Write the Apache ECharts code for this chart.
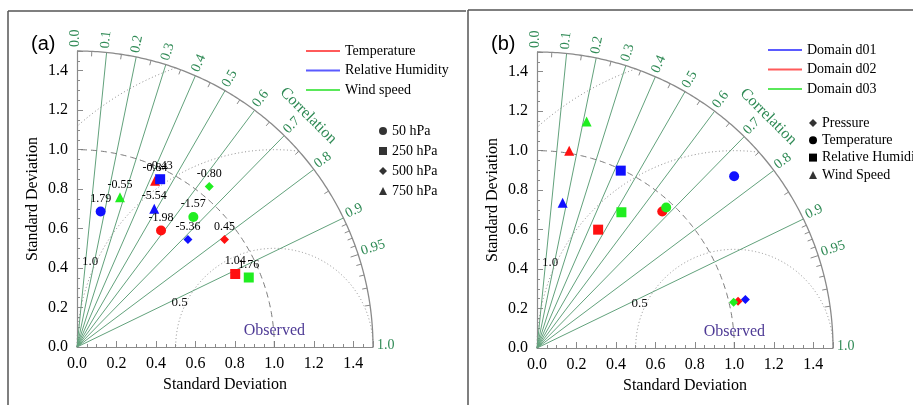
<!DOCTYPE html>
<html><head><meta charset="utf-8">
<script src="https://cdn.jsdelivr.net/npm/echarts@6/dist/echarts.min.js"></script>
<style>html,body{margin:0;padding:0;background:#fff}#c{width:913px;height:405px}</style>
</head><body><div id="c"></div>
<script>
// ---------------- DATA ----------------
// Panel (a): colour = variable, symbol = pressure level
const variablesA = ['Temperature', 'Relative Humidity', 'Wind speed'];
const levelsA = ['50 hPa', '250 hPa', '500 hPa', '750 hPa'];
// values in level order: 50, 250, 500, 750 hPa
const tempStdA  = [0.728, 0.883, 0.925, 0.931];
const tempCorA  = [0.585, 0.908, 0.808, 0.425];
const tempBiasA = ['-1.98', '1.04', '0.45', '-0.84'];
const rhStdA    = [0.697, 0.949, 0.783, 0.802];
const rhCorA    = [0.172, 0.444, 0.718, 0.488];
const rhBiasA   = ['1.79', '-0.43', '-5.36', '-5.54'];
const windStdA  = [0.884, 0.939, 1.054, 0.789];
const windCorA  = [0.667, 0.927, 0.636, 0.276];
const windBiasA = ['-1.57', '1.76', '-0.80', '-0.55'];

// Panel (b): colour = domain, symbol = field
const domainsB = ['Domain d01', 'Domain d02', 'Domain d03'];
const fieldsB = ['Pressure', 'Temperature', 'Relative Humidity', 'Wind Speed'];
// values in field order: Pressure, Temperature, Relative Humidity, Wind Speed
const d01StdB = [1.084, 1.325, 0.994, 0.747];
const d01CorB = [0.974, 0.754, 0.427, 0.174];
const d02StdB = [1.046, 0.939, 0.675, 1.013];
const d02CorB = [0.974, 0.676, 0.459, 0.161];
const d03StdB = [1.023, 0.967, 0.810, 1.175];
const d03CorB = [0.974, 0.677, 0.528, 0.214];

// Diagram scaffolding
const corrLines = [0.1, 0.2, 0.3, 0.4, 0.5, 0.6, 0.7, 0.8, 0.9];
const corrLabels = ['0.0', '0.1', '0.2', '0.3', '0.4', '0.5', '0.6', '0.7', '0.8', '0.9', '0.95', '1.0'];
const corrTicks = [0.05, 0.15, 0.25, 0.35, 0.45, 0.55, 0.65, 0.75, 0.85, 0.91, 0.92, 0.93, 0.94, 0.95, 0.96, 0.97, 0.98, 0.99];
const rmsRadii = [0.5, 1.0, 1.5];
const rmsLabels = ['0.5', '1.0'];
const stdMax = 1.5;
const stdRef = 1.0;

// ---------------- STYLE ----------------
const SERIF = 'Liberation Serif';
const GREEN_LINE = '#62a27c';
const GREEN_TEXT = '#2f8a55';
const GREY = '#8a8a8a';
const C_RED = '#ff1010', C_BLUE = '#1010ff', C_GREEN = '#20ee20';
const L_RED = '#ff5a5a', L_BLUE = '#5a5aff', L_GREEN = '#5ae85a';

function toXY(s, c) { return [s * c, s * Math.sqrt(Math.max(0, 1 - c * c))]; }

function diagramSeries(gi) {
  const base = { type: 'custom', coordinateSystem: 'cartesian2d', xAxisIndex: gi, yAxisIndex: gi,
    silent: true, animation: false, clip: false, z: 1 };
  const out = [];
  // correlation rays
  out.push(Object.assign({}, base, {
    data: corrLines.map(c => [c, 0]),
    renderItem: (p, api) => {
      const c = api.value(0), a = api.coord([0, 0]), b = api.coord(toXY(stdMax, c));
      return { type: 'line', shape: { x1: a[0], y1: a[1], x2: b[0], y2: b[1] }, style: { stroke: GREEN_LINE, lineWidth: 1 } };
    }
  }));
  // outer arc and reference std arc
  out.push(Object.assign({}, base, {
    data: [[stdMax, 0], [stdRef, 1]],
    renderItem: (p, api) => {
      const r = api.value(0), dashed = api.value(1) === 1, pts = [];
      for (let i = 0; i <= 180; i++) { const t = i / 180 * Math.PI / 2; pts.push(api.coord([r * Math.cos(t), r * Math.sin(t)])); }
      return { type: 'polyline', shape: { points: pts },
        style: { stroke: dashed ? '#7a7a7a' : GREY, lineWidth: dashed ? 1 : 1.3, fill: null, lineDash: dashed ? [6, 4] : null } };
    }
  }));
  // centred RMS arcs
  out.push(Object.assign({}, base, {
    data: rmsRadii.map(r => [r, 0]),
    renderItem: (p, api) => {
      const R = api.value(0), pts = [];
      for (let i = 0; i <= 720; i++) {
        const f = i / 720 * Math.PI, x = stdRef + R * Math.cos(f), y = R * Math.sin(f);
        if (x >= 0 && x * x + y * y <= stdMax * stdMax + 1e-9) pts.push(api.coord([x, y]));
      }
      return { type: 'polyline', shape: { points: pts }, style: { stroke: '#8c8c8c', lineWidth: 1, fill: null, lineDash: [1, 2.5] } };
    }
  }));
  // RMS labels
  out.push(Object.assign({}, base, {
    data: rmsLabels.map(l => [parseFloat(l), 0]),
    renderItem: (p, api) => {
      const R = api.value(0) + 0.03, f = 155 / 180 * Math.PI;
      const q = api.coord([stdRef + R * Math.cos(f), R * Math.sin(f)]);
      return { type: 'text', x: q[0], y: q[1],
        style: { text: rmsLabels[p.dataIndex], fontSize: 13, fontFamily: SERIF, fill: '#111', align: 'center', verticalAlign: 'middle' } };
    }
  }));
  // ticks on the correlation arc
  out.push(Object.assign({}, base, {
    data: corrTicks.map(c => [c, 0]),
    renderItem: (p, api) => {
      const c = api.value(0), o = api.coord([0, 0]), b = api.coord(toXY(stdMax, c));
      const dx = b[0] - o[0], dy = b[1] - o[1], L = Math.hypot(dx, dy), len = Math.abs(c - 0.95) < 1e-6 ? 8 : 5;
      return { type: 'line', shape: { x1: b[0], y1: b[1], x2: b[0] - dx / L * len, y2: b[1] - dy / L * len },
        style: { stroke: GREY, lineWidth: 1 } };
    }
  }));
  // correlation labels
  out.push(Object.assign({}, base, {
    data: corrLabels.map(l => [parseFloat(l), 0]),
    renderItem: (p, api) => {
      const c = api.value(0), o = api.coord([0, 0]), b = api.coord(toXY(stdMax, c));
      const dx = b[0] - o[0], dy = b[1] - o[1], L = Math.hypot(dx, dy), ux = dx / L, uy = dy / L;
      const th = Math.acos(c);
      const upx = -Math.sin(th), upy = -Math.cos(th);
      return { type: 'text', x: b[0] + ux * 4 + upx * 2, y: b[1] + uy * 4 + upy * 2, rotation: th,
        style: { text: corrLabels[p.dataIndex], fontSize: 14, fontFamily: SERIF, fill: GREEN_TEXT, align: 'left', verticalAlign: 'middle' } };
    }
  }));
  // axis titles inside the diagram: "Correlation" and "Observed"
  out.push(Object.assign({}, base, {
    data: [[0, 0]],
    renderItem: (p, api) => {
      const o = api.coord([0, 0]), e = api.coord([stdMax, 0]), rpx = e[0] - o[0];
      const r = rpx * 1.105, t = Math.PI / 4;
      const obs = api.coord([stdRef, 0.08]);
      return { type: 'group', children: [
        { type: 'text', x: o[0] + r * Math.cos(t), y: o[1] - r * Math.sin(t), rotation: -Math.PI / 4,
          style: { text: 'Correlation', fontSize: 16, fontFamily: SERIF, fill: GREEN_TEXT, align: 'center', verticalAlign: 'middle' } },
        { type: 'text', x: obs[0], y: obs[1],
          style: { text: 'Observed', fontSize: 16, fontFamily: SERIF, fill: '#4e3a95', align: 'center', verticalAlign: 'middle' } }
      ] };
    }
  }));
  return out;
}

function axisX(gi) {
  return { gridIndex: gi, type: 'value', min: 0, max: stdMax, interval: 0.2,
    axisLine: { show: true, onZero: false, lineStyle: { color: GREY, width: 1.2 } },
    axisTick: { show: true, inside: true, length: 6, lineStyle: { color: GREY } },
    minorTick: { show: true, splitNumber: 4, length: 3, lineStyle: { color: GREY } },
    splitLine: { show: false },
    axisLabel: { color: '#000', fontSize: 16, fontFamily: SERIF, margin: 9, showMaxLabel: false, formatter: v => v.toFixed(1) },
    name: 'Standard Deviation', nameLocation: 'middle', nameGap: 30,
    nameTextStyle: { color: '#000', fontSize: 16, fontFamily: SERIF } };
}
function axisY(gi) {
  const a = axisX(gi);
  a.nameGap = 36;
  return a;
}

const symA = ['circle', 'rect', 'diamond', 'triangle'];
const symB = ['diamond', 'circle', 'rect', 'triangle'];
const sizeOf = { circle: 10, rect: 10, diamond: 9, triangle: 10 };

function pointSeries(name, color, stds, cors, syms, labels, gi) {
  return { type: 'scatter', name: name, xAxisIndex: gi, yAxisIndex: gi, z: 5, animation: false,
    itemStyle: { color: color, opacity: 1 },
    data: stds.map((s, i) => ({
      value: toXY(s, cors[i]), symbol: syms[i], symbolSize: sizeOf[syms[i]],
      label: labels ? { show: true, formatter: labels[i] } : { show: false }
    })),
    label: { position: 'top', distance: 2, color: '#000', fontSize: 12, fontFamily: SERIF } };
}
function dummy(name, symbol, gi) {
  return { type: 'scatter', name: name, xAxisIndex: gi, yAxisIndex: gi, symbol: symbol, itemStyle: { color: '#000' }, data: [] };
}

const series = [].concat(
  diagramSeries(0), diagramSeries(1),
  [
    pointSeries(variablesA[0], C_RED, tempStdA, tempCorA, symA, tempBiasA, 0),
    pointSeries(variablesA[1], C_BLUE, rhStdA, rhCorA, symA, rhBiasA, 0),
    pointSeries(variablesA[2], C_GREEN, windStdA, windCorA, symA, windBiasA, 0),
    pointSeries(domainsB[0], C_BLUE, d01StdB, d01CorB, symB, null, 1),
    pointSeries(domainsB[1], C_RED, d02StdB, d02CorB, symB, null, 1),
    pointSeries(domainsB[2], C_GREEN, d03StdB, d03CorB, symB, null, 1)
  ],
  levelsA.map((l, i) => dummy(l, symA[i], 0)),
  [dummy(fieldsB[0], symB[0], 1), dummy(fieldsB[3], symB[3], 1)]
);

const legText = { fontSize: 14, fontFamily: SERIF, color: '#000' };
const lineLegend = (names, colors, left, top) => ({
  orient: 'vertical', left: left, top: top, itemWidth: 34, itemHeight: 2, itemGap: 5.5, padding: 0,
  selectedMode: false, textStyle: legText,
  data: names.map((n, i) => ({ name: n, icon: 'rect', itemStyle: { color: colors[i] } }))
});
const shapeLegend = (names, syms, left, top, gap) => ({
  orient: 'vertical', left: left, top: top, itemWidth: 8, itemHeight: 8, itemGap: gap, padding: 0,
  selectedMode: false, textStyle: legText,
  data: names.map((n, i) => ({ name: n, icon: syms[i], itemStyle: { color: '#000' } }))
});

const option = {
  backgroundColor: '#fff',
  animation: false,
  title: [
    { text: '(a)', left: 31, top: 34, padding: 0, textStyle: { fontSize: 20, fontWeight: 'normal', fontFamily: 'Liberation Sans', color: '#000' } },
    { text: '(b)', left: 491, top: 34, padding: 0, textStyle: { fontSize: 20, fontWeight: 'normal', fontFamily: 'Liberation Sans', color: '#000' } }
  ],
  grid: [
    { left: 77, top: 51, width: 296, height: 296 },
    { left: 537, top: 52, width: 296, height: 296 }
  ],
  xAxis: [axisX(0), axisX(1)],
  yAxis: [axisY(0), axisY(1)],
  legend: [
    lineLegend(variablesA, [L_RED, L_BLUE, L_GREEN], 306, 44),
    shapeLegend(levelsA, symA, 379, 124, 6),
    lineLegend(domainsB, [L_BLUE, L_RED, L_GREEN], 768, 43),
    shapeLegend(fieldsB, symB, 809, 116, 3.3)
  ],
  graphic: [
    { type: 'line', shape: { x1: 8, y1: 11, x2: 466, y2: 11 }, style: { stroke: '#555', lineWidth: 1.5 } },
    { type: 'line', shape: { x1: 8, y1: 11, x2: 8, y2: 405 }, style: { stroke: '#555', lineWidth: 1.5 } },
    { type: 'line', shape: { x1: 468, y1: 10, x2: 913, y2: 10 }, style: { stroke: '#555', lineWidth: 1.5 } },
    { type: 'line', shape: { x1: 468, y1: 10, x2: 468, y2: 405 }, style: { stroke: '#555', lineWidth: 1.5 } }
  ],
  series: series
};

const chart = echarts.init(document.getElementById('c'), null, { renderer: 'canvas' });
chart.setOption(option);
</script>
</body></html>
